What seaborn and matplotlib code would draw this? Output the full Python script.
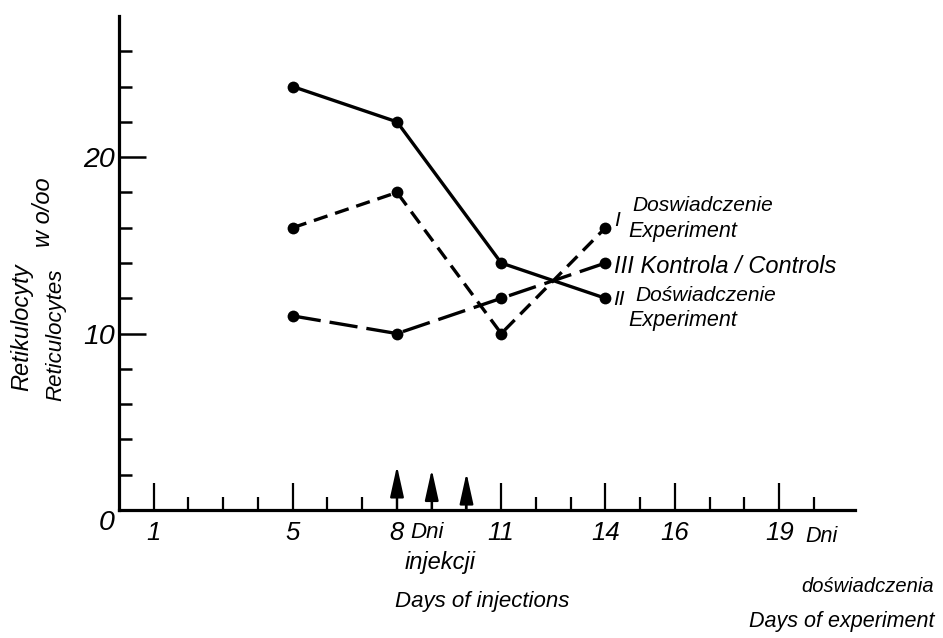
import matplotlib
matplotlib.use("Agg")
import matplotlib.pyplot as plt
import seaborn as sns
import pandas as pd
from matplotlib.ticker import FixedLocator

# ---- data ----
days = [5, 8, 11, 14]
exp_I = [16, 18, 10, 16]          # I Doswiadczenie / Experiment (short dashes)
exp_II = [24, 22, 14, 12]         # II Doświadczenie / Experiment (solid)
controls_III = [11, 10, 12, 14]   # III Kontrola / Controls (long dashes)
series_names = ["I", "II", "III"]
injection_days = [8, 9, 10]
injection_marks = [2.5, 2.3, 2.1]
x_major = [1, 5, 8, 11, 14, 16, 19]
x_major_labels = ["1", "5", "8", "11", "14", "16", "19"]
x_minor = [2, 3, 4, 6, 7, 9, 10, 12, 13, 15, 17, 18, 20]
y_major = [0, 10, 20]
y_major_labels = ["0", "10", "20"]
y_minor = [2, 4, 6, 8, 12, 14, 16, 18, 22, 24, 26]

df = pd.DataFrame({
    "day": days * 3,
    "value": exp_I + exp_II + controls_III,
    "series": [series_names[0]] * 4 + [series_names[1]] * 4 + [series_names[2]] * 4,
})

sns.set_style("white")
FONT = ["Liberation Sans", "DejaVu Sans"]
plt.rcParams["font.family"] = FONT
plt.rcParams["font.style"] = "italic"
for k in ["text.color", "axes.labelcolor", "xtick.color", "ytick.color", "axes.edgecolor"]:
    plt.rcParams[k] = "black"

W, H = 943, 638
fig = plt.figure(figsize=(W / 100, H / 100), dpi=100)
fig.patch.set_facecolor("white")
ax = fig.add_axes([119 / W, 128 / H, 736 / W, 494 / H])
ax.set_facecolor("white")

sns.lineplot(
    data=df, x="day", y="value", hue="series", style="series",
    palette={"I": "black", "II": "black", "III": "black"},
    dashes={"I": (4.3, 2.4), "II": "", "III": (8.5, 2.7)},
    markers={"I": "o", "II": "o", "III": "o"},
    markersize=8.5, markeredgewidth=0, linewidth=2.4,
    legend=False, ax=ax,
)

ax.set_xlim(0, 21.18)
ax.set_ylim(0, 28)
ax.set_xlabel("")
ax.set_ylabel("")
for s in ["top", "right"]:
    ax.spines[s].set_visible(False)
for s in ["left", "bottom"]:
    ax.spines[s].set_linewidth(2.3)
    ax.spines[s].set_color("black")

ax.set_xticks(x_major, x_major_labels)
ax.xaxis.set_minor_locator(FixedLocator(x_minor))
ax.set_yticks(y_major, y_major_labels)
ax.yaxis.set_minor_locator(FixedLocator(y_minor))
ax.tick_params(which="both", bottom=True, left=True, top=False, right=False)
ax.tick_params(axis="x", which="major", direction="in", length=19.5, width=1.6,
               pad=8, labelsize=18.5, color="black", labelcolor="black")
ax.tick_params(axis="x", which="minor", direction="in", length=9.5, width=1.6, color="black")
ax.tick_params(axis="y", which="major", direction="in", length=19.5, width=1.8,
               pad=3, labelsize=20.5, color="black", labelcolor="black")
ax.tick_params(axis="y", which="minor", direction="in", length=9.5, width=1.8, color="black")
ax.yaxis.get_major_ticks()[0].label1.set_verticalalignment("top")

# injection arrows
for d, h in zip(injection_days, injection_marks):
    ax.annotate("", xy=(d, h), xytext=(d, 0),
                arrowprops=dict(arrowstyle="-|>,head_length=1.9,head_width=0.42",
                                color="black", lw=1.6, shrinkA=0, shrinkB=0,
                                mutation_scale=10))

# labels at ends of the lines
def end_label(text, y, dx, dy, size):
    ax.annotate(text, xy=(days[-1], y), xytext=(dx, dy), textcoords="offset points",
                ha="left", va="center", fontsize=size, color="black")

end_label("I", exp_I[-1], 6.5, 5, 15)
end_label("Doswiadczenie", exp_I[-1], 19.4, 15.8, 15)
end_label("Experiment", exp_I[-1], 16.6, -2.9, 15.5)
end_label("III Kontrola / Controls", controls_III[-1], 5.8, -2.2, 17)
end_label("II", exp_II[-1], 5.8, -0.7, 15)
end_label("Doświadczenie", exp_II[-1], 21.6, 2.2, 15)
end_label("Experiment", exp_II[-1], 16.6, -15.8, 15.5)

def ftext(x, y, s, size, **kw):
    fig.text(x / W, 1 - y / H, s, fontsize=size, color="black",
             ha=kw.pop("ha", "center"), va=kw.pop("va", "center"), **kw)

# axis captions
ftext(410, 532, "Dni", 16, ha="left")
ftext(440, 562, "injekcji", 17)
ftext(482, 601, "Days of injections", 16)
ftext(805, 537, "Dni", 15.5, ha="left")
ftext(868, 587, "doświadczenia", 14.5)
ftext(842, 622, "Days of experiment", 15.5)

# y axis caption
ftext(22, 327, "Retikulocyty", 17, rotation=90)
ftext(56, 335, "Reticulocytes", 16, rotation=90)
ftext(43, 212, "w o/oo", 17, rotation=90)

fig.savefig("out.png", dpi=100, facecolor="white")
